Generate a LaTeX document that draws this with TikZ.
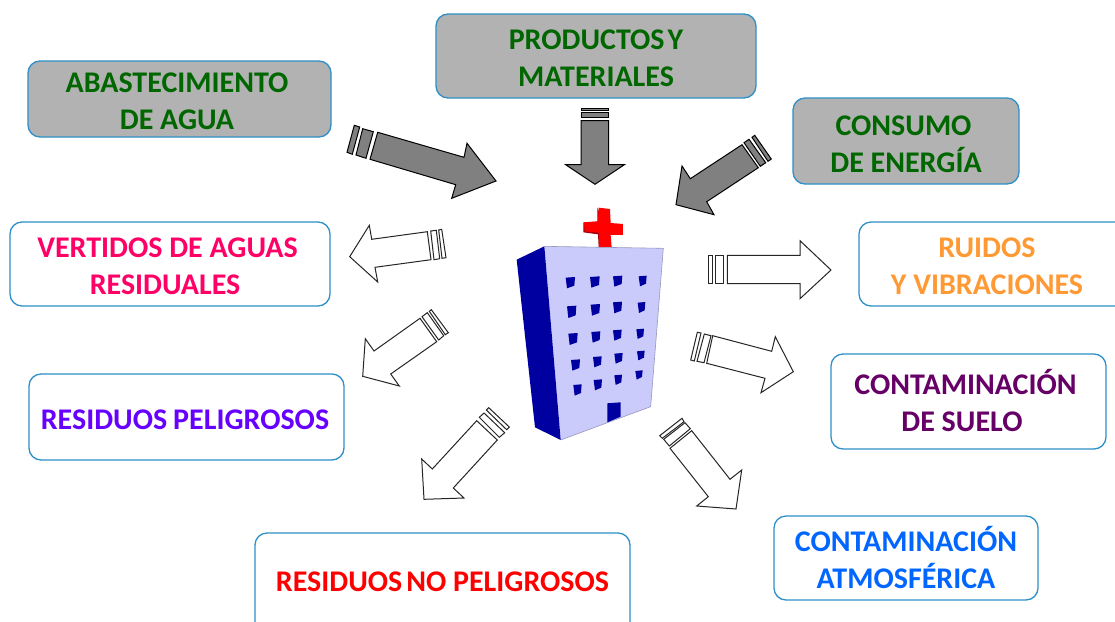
\documentclass[tikz,border=0pt]{standalone}
\usepackage{fontspec}
\setmainfont{Carlito}
\definecolor{edgeblue}{HTML}{2E8FC9}
\definecolor{boxgray}{HTML}{B2B2B2}
\definecolor{arrowgray}{HTML}{808080}
\definecolor{txtgreen}{HTML}{006600}
\definecolor{txtpink}{HTML}{FF0066}
\definecolor{txtorange}{HTML}{FF9933}
\definecolor{txtviolet}{HTML}{6600FF}
\definecolor{txtplum}{HTML}{660066}
\definecolor{txtred}{HTML}{FF0000}
\definecolor{txtblue}{HTML}{0066FF}
\definecolor{bldface}{HTML}{CACBFB}
\definecolor{bldside}{HTML}{0000A0}
\definecolor{crossdark}{HTML}{A00010}
\tikzset{
  x=1pt,y=-1pt,
  box/.style={draw=edgeblue,line width=1.3pt,rounded corners=12pt,align=center,font=\fontsize{30}{37}\selectfont\bfseries,inner sep=0pt,outer sep=0pt},
  grayarrow/.style={draw=black,line width=1pt,fill=arrowgray,line join=miter},
  whitearrow/.style={draw=black!85,line width=1pt,fill=white,line join=miter},
}
\newcommand{\boxat}[8]{% name, x1,y1,x2,y2, fill, text colour, text
  \node[box,fill=#6,text=#7,anchor=north west,minimum width=#4pt-#2pt,minimum height=#5pt-#3pt] (#1) at (#2,#3) {#8};}
\newcommand{\dn}[1]{\rule{0pt}{#1pt}}
\newcommand{\up}[1]{\rule[-#1pt]{0pt}{0pt}}
\begin{document}
\begin{tikzpicture}
\useasboundingbox (0,0) rectangle (1115,621);
\clip (0,0) rectangle (1115,621);
\fill[white] (0,0) rectangle (1115,621);
% boxes
\boxat{abast}{28}{61}{331}{137}{boxgray}{txtgreen}{\dn{24}\hspace*{-5pt}ABASTECIMIENTO\\\hspace*{-5pt}DE AGUA}
\boxat{prod}{436}{14}{756}{98}{boxgray}{txtgreen}{\dn{24}PRODUCTOS\hspace{3pt}Y\\MATERIALES}
\boxat{cons}{793}{98}{1019}{184}{boxgray}{txtgreen}{\dn{26}\hspace*{-5pt}CONSUMO\\DE ENERGÍA}
\boxat{vert}{10}{222}{330}{306}{white}{txtpink}{\dn{25}\hspace*{-5pt}VERTIDOS DE AGUAS\\\hspace*{-10pt}RESIDUALES}
\boxat{ruid}{859}{222}{1130}{306}{white}{txtorange}{\dn{25}\hspace*{-15pt}RUIDOS\\\hspace*{-15pt}Y VIBRACIONES}
\boxat{peli}{29}{374}{344}{460}{white}{txtviolet}{\dn{25}\hspace*{-3pt}RESIDUOS\hspace{6pt}PELIGROSOS}
\boxat{suelo}{831}{354}{1106}{449}{white}{txtplum}{\hspace*{-6pt}CONTAMINACIÓN\\\hspace*{-13pt}DE SUELO\up{2}}
\boxat{nopeli}{255}{533}{630}{640}{white}{txtred}{\raisebox{10pt}{RESIDUOS\hspace{4pt}NO PELIGROSOS}}
\boxat{atmos}{774}{516}{1038}{600}{white}{txtblue}{CONTAMINACIÓN\\ATMOSFÉRICA\up{2}}
% gray arrows
\draw[grayarrow] (377.7,132.3)--(464,157.3)--(467,143.3)--(496,181)--(451.7,198.3)--(455.7,184.7)--(370,159.3)--cycle;
\draw[grayarrow] (362.7,128.7)--(373.3,131.7)--(366,158.3)--(356,155)--cycle;
\draw[grayarrow] (354.3,125.3)--(359.7,127)--(352.3,154.3)--(347,152.3)--cycle;
\draw[grayarrow] (581,120.7)--(608.7,120.7)--(608.7,164.7)--(624.3,164.7)--(595,184.3)--(565.7,164.7)--(581,164.7)--cycle;
\draw[grayarrow] (581,112.7) rectangle (608.7,117.3);
\draw[grayarrow] (581,108) rectangle (608.7,110.7);
\draw[grayarrow] (742,144.7)--(758.3,167.7)--(706.7,201.7)--(714,214.7)--(676,204.7)--(682,166)--(690.3,178.7)--cycle;
\draw[grayarrow] (749,139.3)--(765.7,162.7)--(760.3,166.3)--(744,142.7)--cycle;
\draw[grayarrow] (754.7,135.3)--(771.3,159)--(768,161.3)--(752,137.3)--cycle;
% white arrows
\draw[whitearrow] (427.3,231.7)--(431,259.7)--(375,267.3)--(377.7,282)--(349.7,256.7)--(369.3,225.3)--(371.7,239.3)--cycle;
\draw[whitearrow] (430.7,231)--(436.3,230.3)--(439.7,258.7)--(434,259.7)--cycle;
\draw[whitearrow] (438.7,230)--(441.7,229.3)--(446,257.7)--(442,258.3)--cycle;
\draw[whitearrow] (727.3,255.3)--(800,255.3)--(800,240.7)--(831,270)--(800,298.7)--(800,283.7)--(727.3,283.7)--cycle;
\draw[whitearrow] (715.7,255.3) rectangle (723.7,283.7);
\draw[whitearrow] (708,255.3) rectangle (712.3,283.7);
\draw[whitearrow] (420,318.3)--(436.7,341.7)--(390.7,374)--(399.3,386)--(362.7,376.3)--(365.3,338.7)--(374,351)--cycle;
\draw[whitearrow] (422,316.7)--(427.3,312.7)--(443.7,335.7)--(438.7,340)--cycle;
\draw[whitearrow] (429.3,311.3)--(431.3,309.7)--(448.3,332.7)--(445.3,334.7)--cycle;
\draw[whitearrow] (476.7,420.7)--(497.3,440)--(453.3,488)--(464,498)--(424,499.3)--(421.7,459)--(432.3,469)--cycle;
\draw[whitearrow] (479.3,417.3)--(484,413)--(504.7,432.7)--(499.3,437.3)--cycle;
\draw[whitearrow] (486.3,410)--(488.7,407.7)--(509.3,427)--(506.7,429.7)--cycle;
\draw[whitearrow] (712.7,335.7)--(771.7,351.3)--(775.3,336.7)--(793.3,371.7)--(761,392.7)--(765,378.3)--(706.7,363.3)--cycle;
\draw[whitearrow] (704.3,334)--(711,335.7)--(704,362.7)--(697,361.3)--cycle;
\draw[whitearrow] (697.3,332.3)--(701,333)--(694.3,361)--(690.7,360)--cycle;
\draw[whitearrow] (691.7,430.7)--(730,479.3)--(741.7,470)--(736,509)--(696.7,506)--(708.3,496.7)--(670,448.3)--cycle;
\draw[whitearrow] (685,422.7)--(690.3,428.7)--(669.3,446)--(663.7,439.3)--cycle;
\draw[whitearrow] (682,418.3)--(684,421.7)--(662.3,438.3)--(659.7,435.7)--cycle;
% building, in zoom coordinates
\begin{scope}[shift={(500,190)},x=0.3333pt,y=-0.3333pt]
\fill[crossdark] (292,53)--(292,95)--(250,97)--(250,127)--(294,133)--(296,172)--(310,172)--(310,95)--cycle;
\fill[red] (296,53)--(330,57)--(332,99)--(369,102)--(369,135)--(332,135)--(335,172)--(298,172)--(296,128)--(254,124)--(252,97)--(294,94)--cycle;
\fill[bldface] (133,169)--(490,175)--(452,650)--(182,750)--cycle;
\draw[bldface!75!black,line width=0.6pt] (133,169)--(490,175)--(452,650)--(182,750);
\fill[bldside] (133,169)--(50,209)--(105,712)--(182,750)--cycle;
\foreach \xa/\ya/\xb/\yb in {197/263/225/295,270/261/299/293,339/259/367/290,416/259/440/289,
 201/349/229/384,272/344/300/377,339/337/366/370,413/338/436/369,
 205/431/233/465,274/426/301/458,339/421/365/452,409/418/432/447,
 213/510/240/542,279/501/305/532,343/491/368/521,411/484/434/511,
 220/585/245/617,281/570/306/601,343/556/366/585,406/543/428/569}{
 \fill[bldside] (\xa,\ya)--(\xb,\ya-2)--(\xb-2,\yb-8)--(\xa+4,\yb)--cycle;
}
\fill[bldside] (322,640)--(362,637)--(362,680)--(322,697)--cycle;
\end{scope}
\end{tikzpicture}
\end{document}
